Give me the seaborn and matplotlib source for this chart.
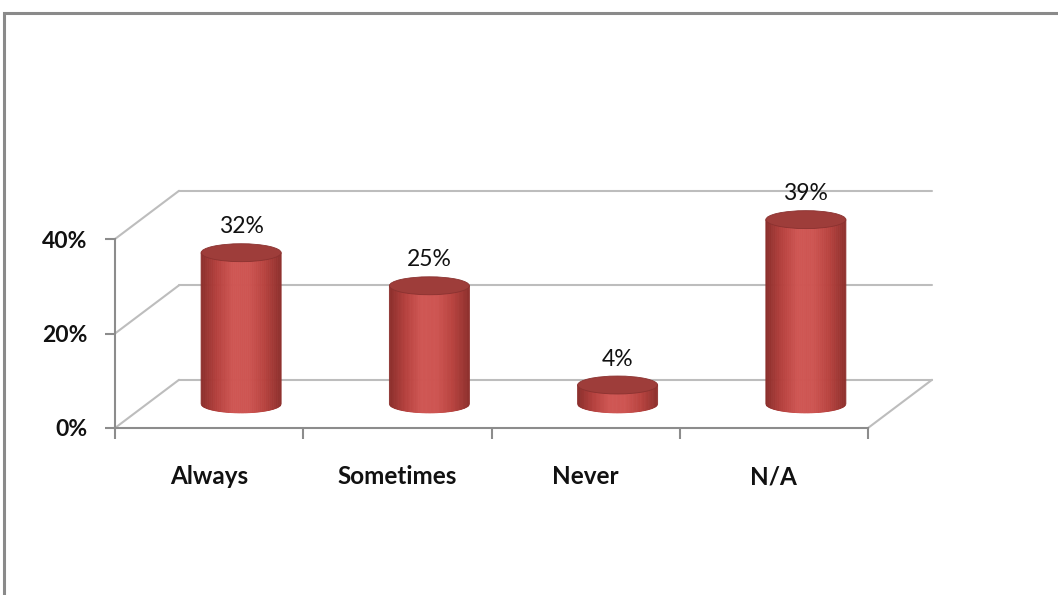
import numpy as np
import pandas as pd
import matplotlib
matplotlib.use("Agg")
import matplotlib.pyplot as plt
import seaborn as sns
from matplotlib.patches import Ellipse, Rectangle
from matplotlib.colors import LinearSegmentedColormap

categories = ["Always", "Sometimes", "Never", "N/A"]
values = [32, 25, 4, 39]
y_ticks = [0, 20, 40]
y_tick_labels = ["0%", "20%", "40%"]

sns.set_theme(style="white")
plt.rcParams["font.family"] = ["Lato", "DejaVu Sans"]

W, H = 1058, 595
fig = plt.figure(figsize=(W / 100, H / 100), dpi=100)
fig.patch.set_facecolor("white")

# front plane of the pseudo-3D chart
x0_px, x1_px, y0_px, y1_px = 115, 868, 428, 239
ax = fig.add_axes([x0_px / W, 1 - y0_px / H, (x1_px - x0_px) / W, (y0_px - y1_px) / H])

df = pd.DataFrame({"category": categories, "value": values})
sns.barplot(data=df, x="category", y="value", ax=ax, width=0.425,
            color="#C0504D", saturation=1, errorbar=None)

ax.set_xlim(-0.5, 3.5)
ax.set_ylim(0, 40)

# depth offsets in data units (back wall, and mid-depth for the cylinders)
DX, DY = 0.34, 10.2
MX, MY = DX / 2, DY / 2
grid_c = "#BDBDBD"
axis_c = "#8C8C8C"

# back wall gridlines and side diagonals
for yv in y_ticks:
    ax.plot([-0.5, -0.5 + DX], [yv, yv + DY], color=grid_c, lw=1.5, clip_on=False, zorder=1)
    ax.plot([-0.5 + DX, 3.5 + DX], [yv + DY, yv + DY], color=grid_c, lw=1.5, clip_on=False, zorder=1)
ax.plot([3.5, 3.5 + DX], [0, DY], color=grid_c, lw=1.5, clip_on=False, zorder=1)

# cylinder shading
body_cmap = LinearSegmentedColormap.from_list(
    "body", ["#8A2E2B", "#B5413E", "#CF5653", "#CE5552", "#B8433F", "#8E302D"])
top_color = "#9E3D3A"
eh = 3.8      # ellipse height (data units)
n_strips = 60

for patch, v in zip(ax.patches, values):
    patch.set_visible(False)
    w = patch.get_width()
    cx = patch.get_x() + w / 2 + MX
    base = MY
    top = base + patch.get_height()
    a, b = w / 2, eh / 2
    # body: vertical strips shaded left to right, bottom closed by the lower half-ellipse
    edges = np.linspace(-1, 1, n_strips + 1)
    for i in range(n_strips):
        u0, u1 = edges[i], edges[i + 1]
        us = np.linspace(u0, u1, 4)
        xs = cx + a * us
        ys = base - b * np.sqrt(np.clip(1 - us ** 2, 0, 1))
        px = np.concatenate([xs, xs[::-1]])
        py = np.concatenate([ys, np.full_like(xs, top)])
        col = body_cmap((i + 0.5) / n_strips)
        ax.fill(px, py, color=col, lw=0.6, edgecolor=col, clip_on=False, zorder=3)
    # top cap
    ell = Ellipse((cx, top), 2 * a, 2 * b, facecolor=top_color, edgecolor="#8A3230",
                  lw=0.6, zorder=4, clip_on=False)
    ax.add_patch(ell)
    ax.text(cx, top + 5.5, f"{v}%", ha="center", va="center", fontsize=16.5,
            color="#111111", clip_on=False, zorder=5)

ax.set_xlim(-0.5, 3.5)
ax.set_ylim(0, 40)

# axes, ticks, labels
for s in ["top", "right"]:
    ax.spines[s].set_visible(False)
for s in ["left", "bottom"]:
    ax.spines[s].set_visible(True)
    ax.spines[s].set_color(axis_c)
    ax.spines[s].set_linewidth(1.5)
ax.set_xlabel("")
ax.set_ylabel("")
ax.set_yticks(y_ticks)
ax.set_yticklabels(y_tick_labels, fontsize=16.5, fontweight="bold", color="#111111")
ax.set_xticks(range(len(categories)))
ax.set_xticklabels(categories, fontsize=17.5, fontweight="bold", color="#111111")
ax.set_xticks(np.arange(-0.5, len(categories), 1.0), minor=True)
ax.tick_params(axis="y", left=True, length=7, width=1.5, color=axis_c, pad=13)
ax.tick_params(axis="x", which="major", bottom=False, length=0, pad=27)
ax.tick_params(axis="x", which="minor", bottom=True, length=8, width=1.5, color=axis_c)
ax.grid(False)
ax.patch.set_alpha(0)

# outer chart frame
fig.patches.append(Rectangle((4 / W, -0.2), 1.3, 1.2 - 13 / H, transform=fig.transFigure,
                             fill=False, edgecolor="#8A8A8A", lw=2.2))

fig.savefig("out.png", dpi=100)
